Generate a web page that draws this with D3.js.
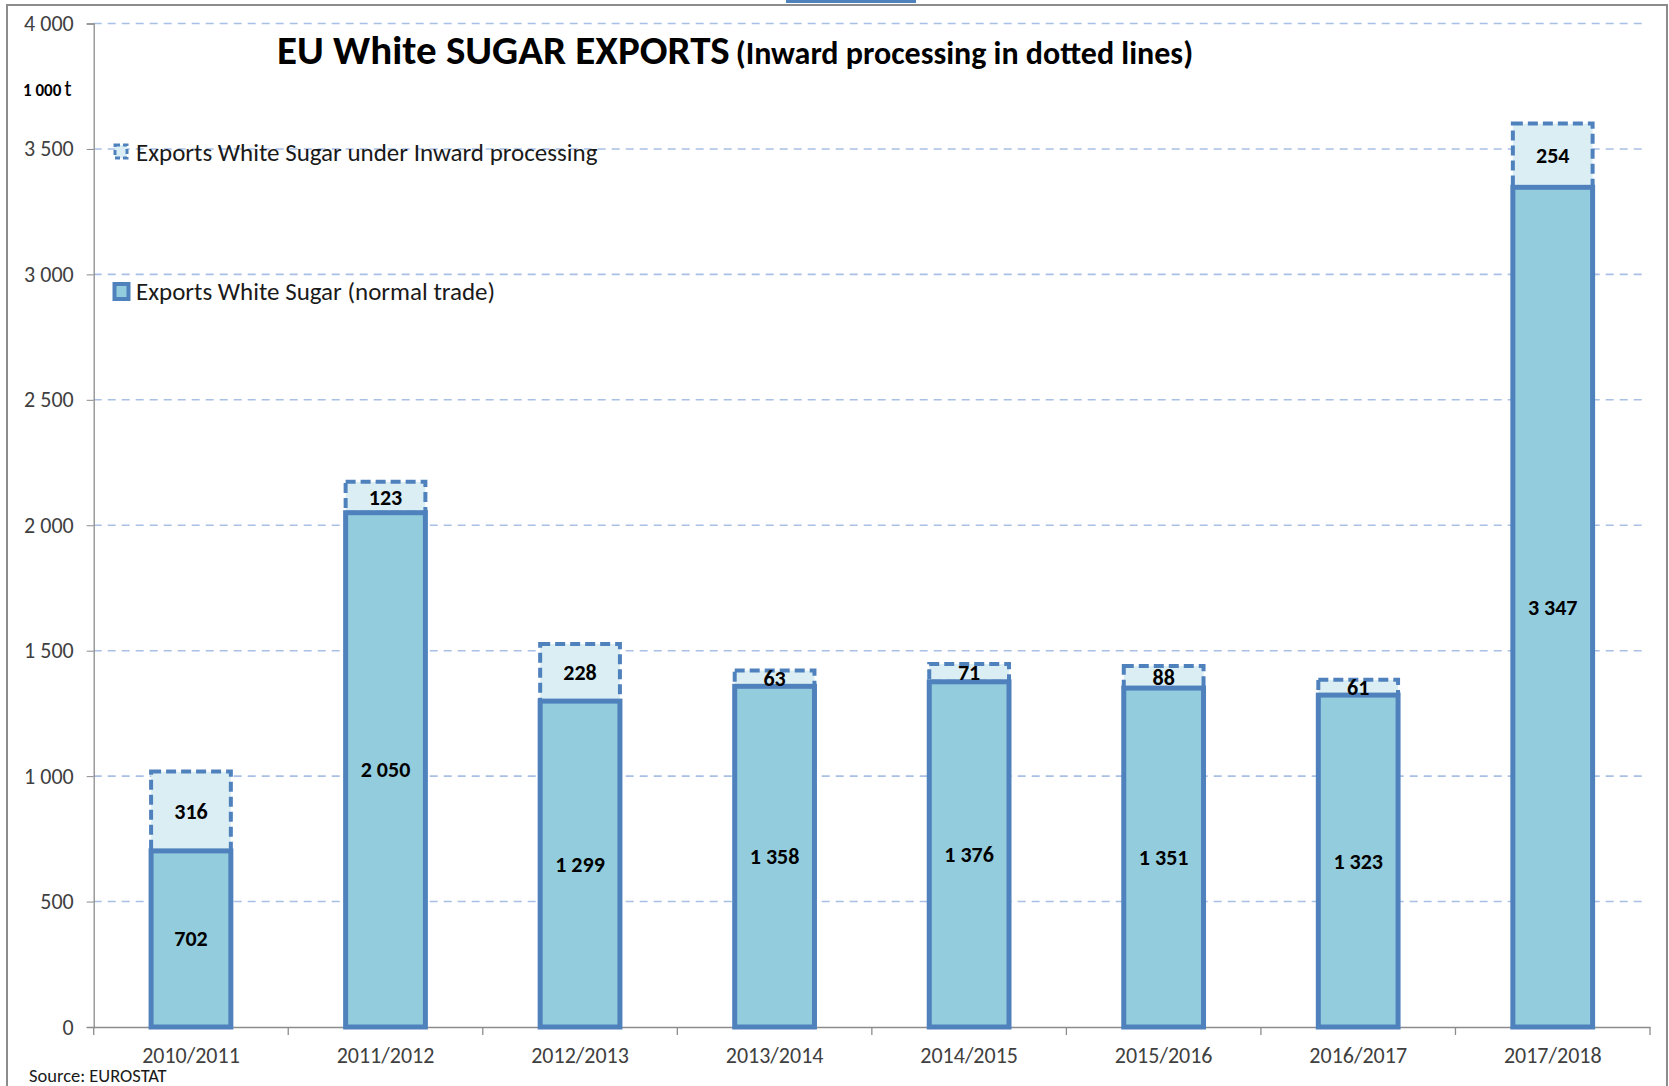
<!DOCTYPE html>
<html><head><meta charset="utf-8">
<script src="https://cdn.jsdelivr.net/npm/d3@7"></script>
<style>
html,body{margin:0;padding:0;background:#fff;}
text{font-family:Carlito,Lato,"Open Sans",sans-serif;}
</style></head>
<body>
<svg id="chart" width="1669" height="1086"></svg>
<script>
const categories = ["2010/2011","2011/2012","2012/2013","2013/2014","2014/2015","2015/2016","2016/2017","2017/2018"];
const normalTrade = [702, 2050, 1299, 1358, 1376, 1351, 1323, 3347];
const inwardProcessing = [316, 123, 228, 63, 71, 88, 61, 254];
const yTicks = [0, 500, 1000, 1500, 2000, 2500, 3000, 3500, 4000];
const seriesNames = ["Exports White Sugar under Inward processing", "Exports White Sugar (normal trade)"];
const titleMain = "EU White SUGAR EXPORTS";
const titleSub = "(Inward processing in dotted lines)";
const unitLabel = "1 000";
const sourceText = "Source: EUROSTAT";

const svg = d3.select("#chart");
const fmt = v => d3.format(",")(v).replace(/,/g, " ");

const pLeft = 93.7, pRight = 1650, pTop = 23.5, pBottom = 1027;
const x = d3.scaleBand().domain(categories).range([pLeft, pRight]).padding(0);
const y = d3.scaleLinear().domain([0, 4000]).range([pBottom, pTop]);

const colStroke = "#4F81BD", colNormal = "#93CDDD", colInward = "#DBEEF4";
const FF = "Carlito,Lato,sans-serif";

// frame
svg.append("rect").attr("x", 7).attr("y", 5).attr("width", 1660).attr("height", 1090)
  .attr("fill", "none").attr("stroke", "#8c8c8c").attr("stroke-width", 2);
svg.append("rect").attr("x", 786).attr("y", 0).attr("width", 130).attr("height", 3).attr("fill", "#4F81BD");

// gridlines
svg.append("g").selectAll("line").data(yTicks.filter(d => d > 0)).join("line")
  .attr("x1", pLeft).attr("x2", pRight - 6).attr("y1", d => y(d)).attr("y2", d => y(d))
  .attr("stroke", "#A9C0E6").attr("stroke-width", 1.6).attr("stroke-dasharray", "8,6");

// y axis
const yAxis = svg.append("g").attr("transform", `translate(${pLeft},0)`)
  .call(d3.axisLeft(y).tickValues(yTicks).tickFormat(fmt).tickSize(7).tickPadding(13));
yAxis.select(".domain").attr("stroke", "#8c8c8c").attr("stroke-width", 1.3);
yAxis.selectAll(".tick line").attr("stroke", "#8c8c8c");
yAxis.selectAll(".tick text").attr("font-size", 22).attr("fill", "#404040").style("font-family", FF);

// x axis
const xAxis = svg.append("g").attr("transform", `translate(0,${pBottom})`)
  .call(d3.axisBottom(x).tickSize(0).tickPadding(20));
xAxis.select(".domain").attr("stroke", "#8c8c8c").attr("stroke-width", 1.3);
xAxis.selectAll(".tick text").attr("font-size", 22).attr("fill", "#404040").style("font-family", FF);
const bounds = categories.map(c => x(c)).concat([pRight]);
svg.append("g").selectAll("line").data(bounds).join("line")
  .attr("x1", d => d).attr("x2", d => d).attr("y1", pBottom).attr("y2", pBottom + 8)
  .attr("stroke", "#8c8c8c").attr("stroke-width", 1.3);

// bars
const bw = x.bandwidth() * 0.41;
const bx = c => x(c) + (x.bandwidth() - bw) / 2;
const data = categories.map((c, i) => ({c, n: normalTrade[i], w: inwardProcessing[i]}));

const g = svg.append("g");
g.selectAll("rect.inw").data(data).join("rect").attr("class", "inw")
  .attr("x", d => bx(d.c)).attr("width", bw)
  .attr("y", d => y(d.n + d.w)).attr("height", d => y(d.n) - y(d.n + d.w))
  .attr("fill", colInward).attr("stroke", colStroke).attr("stroke-width", 4)
  .attr("stroke-dasharray", "10,5");
g.selectAll("rect.nrm").data(data).join("rect").attr("class", "nrm")
  .attr("x", d => bx(d.c)).attr("width", bw)
  .attr("y", d => y(d.n)).attr("height", d => y(0) - y(d.n))
  .attr("fill", colNormal).attr("stroke", colStroke).attr("stroke-width", 5);

g.selectAll("text.nl").data(data).join("text").attr("class", "nl")
  .attr("x", d => bx(d.c) + bw / 2).attr("y", d => (y(d.n) + y(0)) / 2)
  .attr("text-anchor", "middle").attr("dominant-baseline", "central")
  .attr("font-size", 22).attr("font-weight", "bold").attr("fill", "#000")
  .text(d => fmt(d.n));
g.selectAll("text.wl").data(data).join("text").attr("class", "wl")
  .attr("x", d => bx(d.c) + bw / 2).attr("y", d => (y(d.n) + y(d.n + d.w)) / 2)
  .attr("text-anchor", "middle").attr("dominant-baseline", "central")
  .attr("font-size", 22).attr("font-weight", "bold").attr("fill", "#000")
  .text(d => fmt(d.w));

// title
const t = svg.append("text").attr("x", 277).attr("y", 64).attr("fill", "#000").attr("font-weight", "bold");
t.append("tspan").attr("font-size", 41).text(titleMain);
t.append("tspan").attr("font-size", 32).attr("dx", 6).text(titleSub);

// unit label
const u = svg.append("text").attr("x", 23).attr("y", 96).attr("fill", "#000").attr("font-weight", "bold");
u.append("tspan").attr("font-size", 17).text(unitLabel);
u.append("tspan").attr("font-size", 22).attr("dx", 3).attr("font-weight", "normal").text("t");

// legend
const leg = svg.append("g");
leg.append("rect").attr("x", 115).attr("y", 145).attr("width", 12).attr("height", 13)
  .attr("fill", colInward).attr("stroke", colStroke).attr("stroke-width", 3).attr("stroke-dasharray", "5,3");
leg.append("text").attr("x", 136).attr("y", 161).attr("font-size", 25).attr("fill", "#1a1a1a").text(seriesNames[0]);
leg.append("rect").attr("x", 114.5).attr("y", 284).attr("width", 14).attr("height", 15)
  .attr("fill", colNormal).attr("stroke", colStroke).attr("stroke-width", 4);
leg.append("text").attr("x", 136).attr("y", 300).attr("font-size", 25).attr("fill", "#1a1a1a").text(seriesNames[1]);

// source
svg.append("text").attr("x", 29).attr("y", 1082).attr("font-size", 18.5).attr("fill", "#1a1a1a").text(sourceText);
</script>
</body></html>
